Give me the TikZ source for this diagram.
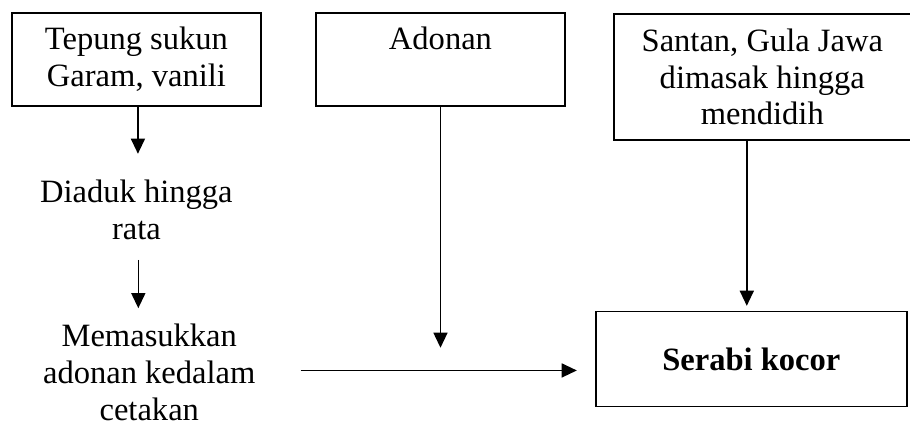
\documentclass[tikz,border=0pt]{standalone}
\usepackage{fontspec}
\setmainfont{Liberation Serif}
\usepackage{tikz}
\usetikzlibrary{arrows.meta, positioning}
\tikzset{
  block/.style={rectangle, draw=black, fill=white, align=center,
    minimum width=6.6cm, minimum height=2.46cm, inner sep=0pt,
    line width=1.3pt},
  txt/.style={align=center, inner sep=0pt},
  arrow/.style={-{Triangle[length=0.40cm, width=0.37cm]}, line width=1.2pt, color=black}
}

\begin{document}
\begin{tikzpicture}[font=\fontsize{24.5}{27.5}\selectfont]
  \useasboundingbox (0,0) rectangle (24.08,-11.30);

  % Bahan awal
  \node[block] at (3.61,-1.57) (tepung) {Tepung sukun\\Garam, vanili};
  \node[block, right=1.40cm of tepung] (adonan) {Adonan\\\phantom{Garam, vanili}};
  \node[block, right=1.24cm of adonan.north east, anchor=north west, yshift=-0.03cm,
        minimum width=7.86cm, minimum height=3.33cm] (santan) {Santan, Gula Jawa\\dimasak hingga\\mendidih};

  % Proses
  \node[txt, below=2.73cm of tepung.south, anchor=center] (diaduk) {Diaduk hingga\\rata};
  \node[txt, below=4.30cm of diaduk.center, anchor=center, xshift=0.34cm] (masuk) {Memasukkan\\adonan kedalam\\cetakan};

  % Hasil
  \node[block, below=4.50cm of santan, xshift=-0.29cm,
        minimum width=8.23cm, minimum height=2.51cm] (serabi) {\textbf{Serabi kocor}};

  \coordinate[below=6.38cm of adonan.south] (adonanend);

  \draw[arrow, shorten >=0.69cm] ([xshift=0.04cm]tepung.south) -- ([xshift=0.04cm]tepung.south |- diaduk.north);
  \draw[arrow, shorten <=0.53cm, shorten >=0.42cm] ([xshift=0.05cm]diaduk.south) -- ([xshift=0.05cm]diaduk.south |- masuk.north);
  \draw[arrow] (adonan.south) -- (adonanend);
  \draw[arrow, shorten >=0.13cm] ([xshift=-0.41cm]santan.south) -- ([xshift=-0.41cm]santan.south |- serabi.north);
  \draw[arrow, shorten <=1.19cm, shorten >=0.48cm] ([yshift=0.05cm]masuk.east) -- ([yshift=0.05cm]masuk.east -| serabi.west);
\end{tikzpicture}
\end{document}
